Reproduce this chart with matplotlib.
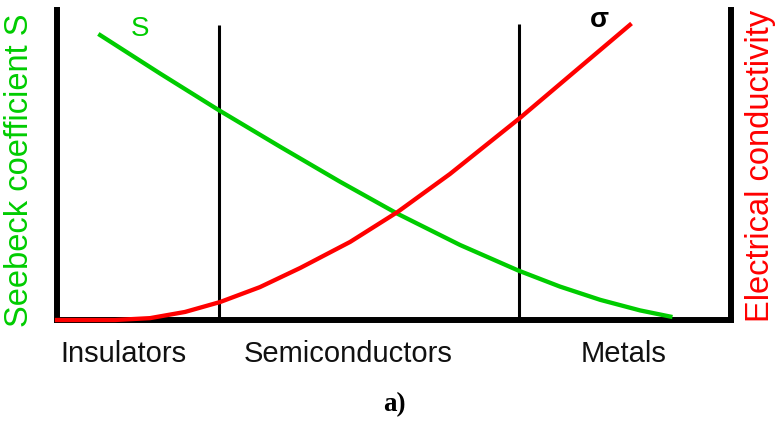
import matplotlib.pyplot as plt

# curve points (x: position along the axis, y: relative height)
seebeck_x = [0.064, 0.153, 0.240, 0.331, 0.420, 0.505, 0.598, 0.684, 0.746, 0.806,
             0.865, 0.910]
seebeck_y = [0.919, 0.795, 0.677, 0.559, 0.446, 0.343, 0.242, 0.160, 0.108, 0.065,
             0.031, 0.011]

sigma_x = [0.0, 0.086, 0.138, 0.190, 0.242, 0.301, 0.361, 0.435, 0.505, 0.583,
           0.687, 0.769, 0.850]
sigma_y = [0.0, 0.0, 0.006, 0.026, 0.058, 0.106, 0.168, 0.252, 0.348, 0.471,
           0.652, 0.803, 0.952]

# region boundaries and their top ends
divider_x = [0.240, 0.685]
divider_top = [0.952, 0.955]

regions = ['Insulators', 'Semiconductors', 'Metals']
region_x = [0.098, 0.432, 0.840]

green = '#00cc00'
red = '#ff0000'

fig = plt.figure(figsize=(7.75, 4.23), dpi=100)
ax = fig.add_axes([57 / 775, 103 / 423, 674 / 775, 310 / 423])
ax.set_xlim(0, 1)
ax.set_ylim(0, 1)

for side in ['left', 'right', 'bottom']:
    ax.spines[side].set_linewidth(4.3)
ax.spines['top'].set_visible(False)
ax.set_xticks([])
ax.set_yticks([])

for x, top in zip(divider_x, divider_top):
    ax.plot([x, x], [0, top], color='black', linewidth=2.2, solid_capstyle='butt')

ax.plot(seebeck_x, seebeck_y, color=green, linewidth=3.1, zorder=3, clip_on=False,
        solid_joinstyle='round')
ax.plot(sigma_x, sigma_y, color=red, linewidth=3.1, zorder=3, clip_on=False,
        solid_joinstyle='round')

ax.text(0.123, 0.94, 'S', color=green, fontsize=20, family='Liberation Sans',
        ha='center', va='center')
ax.text(0.804, 0.968, 'σ', color='black', fontsize=20, fontweight='bold',
        family='Liberation Sans', ha='center', va='center')

for name, x in zip(regions, region_x):
    ax.text(x, -0.11, name, color='#111111', fontsize=21, family='Liberation Sans',
            ha='center', va='center')

fig.text(20 / 775, 1 - 170 / 423, 'Seebeck coefficient S', color=green, fontsize=23.5,
         family='Liberation Sans', rotation=90, ha='center', va='center')
fig.text(761 / 775, 1 - 166 / 423, 'Electrical conductivity', color=red, fontsize=23.5,
         family='Liberation Sans', rotation=90, ha='center', va='center')
fig.text(394 / 775, 1 - 405 / 423, 'a)', color='black', fontsize=19.5, fontweight='bold',
         family='Liberation Serif', ha='center', va='center')

fig.savefig('out.png', dpi=100)
